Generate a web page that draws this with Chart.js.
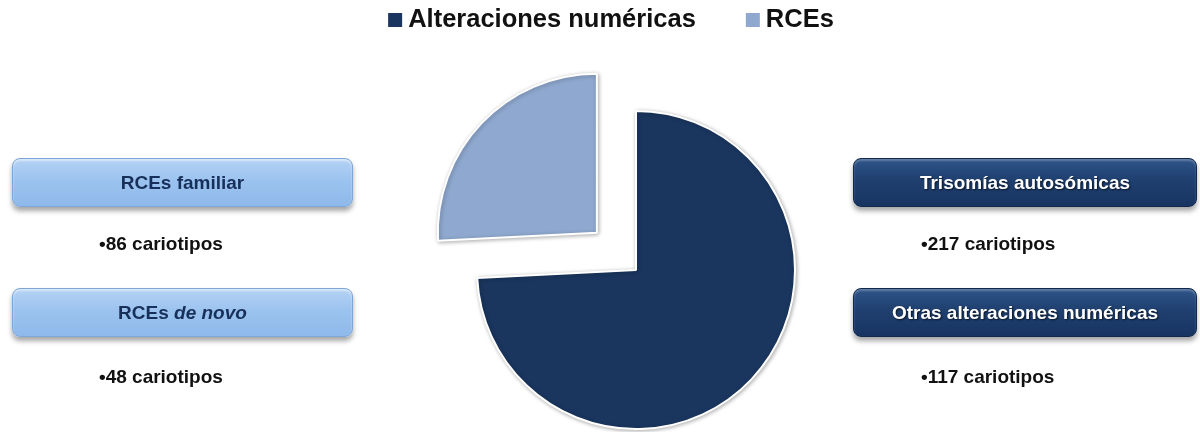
<!DOCTYPE html>
<html>
<head>
<meta charset="utf-8">
<script src="https://cdn.jsdelivr.net/npm/chart.js"></script>
<style>
  html, body { margin: 0; padding: 0; background: #fff; }
  #wrap { position: relative; width: 1200px; height: 432px; overflow: hidden; font-family: "Liberation Sans", Arial, sans-serif; }
  #pie { position: absolute; left: 0; top: 0; }
  .tag {
    position: absolute; height: 49px; box-sizing: border-box;
    display: flex; align-items: center; justify-content: center;
    font-weight: bold; font-size: 19px; border-radius: 8px;
  }
  .tag.light {
    left: 12px; width: 341px; color: #17305a;
    background: linear-gradient(#b4d2f4 0%, #9cc3ef 45%, #8fb9ea 100%);
    border: 1px solid #7fa6d6;
    box-shadow: 0 4px 5px rgba(0,0,0,0.35), inset 0 2px 2px rgba(255,255,255,0.5);
  }
  .tag.dark {
    left: 853px; width: 344px; color: #fff;
    background: linear-gradient(#2e5488 0%, #1f4070 45%, #183461 100%);
    border: 1px solid #13294c;
    box-shadow: 0 4px 5px rgba(0,0,0,0.35), inset 0 2px 2px rgba(255,255,255,0.25);
    text-shadow: 1px 1px 2px rgba(0,0,0,0.7);
  }
  .count {
    position: absolute; font-weight: bold; font-size: 19px; line-height: 19px;
    color: #111; white-space: nowrap;
  }
</style>
</head>
<body>
<div id="wrap">
  <canvas id="pie" width="1200" height="432"></canvas>
</div>
<script>
// pie groups
const groupLabels = ['Alteraciones numéricas', 'RCEs'];
const groupShare = [74.2, 25.8];
const groupColors = ['#1a365f', '#8fa8cf'];

// breakdown per group
const rceTypes = ['RCEs familiar', 'RCEs <i>de novo</i>'];
const rceCounts = [86, 48];
const numericTypes = ['Trisomías autosómicas', 'Otras alteraciones numéricas'];
const numericCounts = [217, 117];

const rowTops = [158, 288];
const countTops = [234, 367];

// side boxes and counts
const wrap = document.getElementById('wrap');
function addTag(html, cls, top) {
  const d = document.createElement('div');
  d.className = 'tag ' + cls;
  d.style.top = top + 'px';
  // wrap in a span so flex doesn't eat the space before <i>
  d.innerHTML = '<span>' + html + '</span>';
  wrap.appendChild(d);
}
function addCount(n, left, top) {
  const d = document.createElement('div');
  d.className = 'count';
  d.style.left = left + 'px';
  d.style.top = top + 'px';
  d.textContent = '•' + n + ' cariotipos';
  wrap.appendChild(d);
}
rceTypes.forEach((t, i) => {
  addTag(t, 'light', rowTops[i]);
  addCount(rceCounts[i], 99, countTops[i]);
});
numericTypes.forEach((t, i) => {
  addTag(t, 'dark', rowTops[i]);
  addCount(numericCounts[i], 921, countTops[i]);
});

// legend drawn at the top, centred over the chart
const topLegend = {
  id: 'topLegend',
  afterDraw(chart) {
    const ctx = chart.ctx;
    const ds = chart.data.datasets[0];
    ctx.save();
    ctx.font = 'bold 25.5px "Liberation Sans", Arial, sans-serif';
    ctx.textBaseline = 'alphabetic';
    const box = 14, gap = 6, between = 50;
    const widths = chart.data.labels.map(l => ctx.measureText(l).width);
    let total = 0;
    widths.forEach((w, i) => { total += box + gap + w + (i ? between : 0); });
    let x = 611 - total / 2;
    chart.data.labels.forEach((label, i) => {
      ctx.fillStyle = ds.backgroundColor[i];
      ctx.fillRect(x, 13, box, box);
      ctx.fillStyle = '#111';
      ctx.fillText(label, x + box + gap, 27);
      x += box + gap + widths[i] + between;
    });
    ctx.restore();
  }
};

// soft shadow under the slices
const sliceShadow = {
  id: 'sliceShadow',
  beforeDatasetsDraw(chart) {
    const ctx = chart.ctx;
    ctx.save();
    ctx.shadowColor = 'rgba(0,0,0,0.3)';
    ctx.shadowBlur = 4;
    ctx.shadowOffsetX = 1;
    ctx.shadowOffsetY = 1;
  },
  afterDatasetsDraw(chart) {
    chart.ctx.restore();
  }
};

new Chart(document.getElementById('pie'), {
  type: 'pie',
  data: {
    labels: groupLabels,
    datasets: [{
      data: groupShare,
      backgroundColor: groupColors,
      borderColor: '#ffffff',
      borderWidth: 2,
      offset: [0, 216]
    }]
  },
  options: {
    responsive: false,
    animation: false,
    radius: 159,
    layout: { padding: { left: 472, right: 400, top: 110, bottom: 2 } },
    plugins: {
      legend: { display: false },
      tooltip: { enabled: false }
    }
  },
  plugins: [topLegend, sliceShadow]
});
</script>
</body>
</html>
